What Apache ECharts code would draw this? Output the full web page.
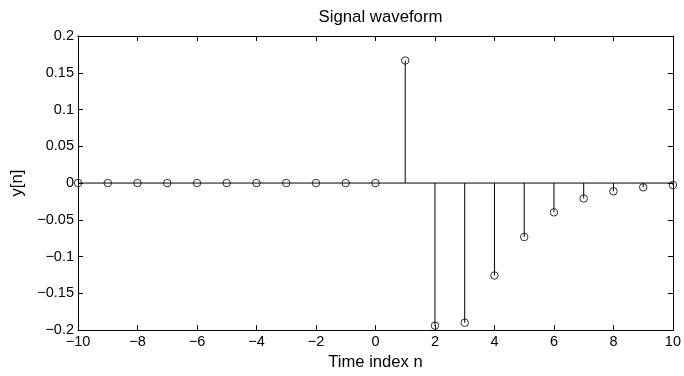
<!DOCTYPE html>
<html><head><meta charset="utf-8">
<script src="https://cdn.jsdelivr.net/npm/echarts@6/dist/echarts.min.js"></script>
<style>html,body{margin:0;padding:0;background:#fff}#c{width:684px;height:376px}</style>
</head><body><div id="c"></div>
<script>
var nValues = [-10,-9,-8,-7,-6,-5,-4,-3,-2,-1,0,1,2,3,4,5,6,7,8,9,10];
var yValues = [0,0,0,0,0,0,0,0,0,0,0,0.1667,-0.194,-0.190,-0.1257,-0.0734,-0.0398,-0.021,-0.0112,-0.0058,-0.0027];
var titleText = 'Signal waveform';
var xLabel = 'Time index n';
var yLabel = 'y[n]';

var pts = nValues.map(function(n,i){return [n, yValues[i]];});
var font = 'Liberation Sans, Arial, Helvetica, sans-serif';
function fmt(v){ var s = String(Math.round(v*1000)/1000); return s.replace('-', '\u2212'); }
var chart = echarts.init(document.getElementById('c'), null, {renderer:'canvas'});
var axLine = {show:true, onZero:false, lineStyle:{color:'#000', width:1}};
var axTick = {show:true, inside:true, length:5, lineStyle:{color:'#000', width:1}};
chart.setOption({
  animation:false,
  backgroundColor:'#fff',
  title:{text:titleText, left:375.5, top:4, textAlign:'center', textStyle:{fontFamily:font, fontSize:16.8, fontWeight:'normal', color:'#000'}},
  grid:{left:78, right:11, top:36, bottom:42, containLabel:false},
  xAxis:[
    {type:'value', min:-10, max:10, interval:2, position:'bottom', axisLine:axLine, axisTick:axTick, splitLine:{show:false},
     axisLabel:{fontFamily:font, fontSize:14.5, color:'#000', margin:4, formatter:fmt},
     name:xLabel, nameLocation:'middle', nameGap:19, nameTextStyle:{fontFamily:font, fontSize:16.6, color:'#000'}},
    {type:'value', min:-10, max:10, interval:2, position:'top', axisLine:axLine, axisTick:axTick, splitLine:{show:false}, axisLabel:{show:false}}
  ],
  yAxis:[
    {type:'value', min:-0.2, max:0.2, interval:0.05, position:'left', axisLine:axLine, axisTick:axTick, splitLine:{show:false},
     axisLabel:{fontFamily:font, fontSize:14.5, color:'#000', margin:4, formatter:fmt},
     name:yLabel, nameLocation:'middle', nameGap:50, nameRotate:90, nameTextStyle:{fontFamily:font, fontSize:16.6, color:'#000'}},
    {type:'value', min:-0.2, max:0.2, interval:0.05, position:'right', axisLine:axLine, axisTick:axTick, splitLine:{show:false}, axisLabel:{show:false}}
  ],
  series:[
    {type:'line', data:[[nValues[0],0],[nValues[nValues.length-1],0]], symbol:'none', lineStyle:{color:'#000', width:1}, silent:true, z:2},
    {type:'custom', data:pts, z:3, renderItem:function(params, api){
      var x = api.value(0), y = api.value(1);
      var p0 = api.coord([x,0]), p1 = api.coord([x,y]);
      return {type:'line', shape:{x1:p0[0], y1:p0[1], x2:p1[0], y2:p1[1]}, style:{stroke:'#000', lineWidth:1}};
    }},
    {type:'scatter', data:pts, symbol:'circle', symbolSize:7.5, z:4,
     itemStyle:{color:'rgba(0,0,0,0)', borderColor:'#000', borderWidth:1}}
  ]
});
</script></body></html>
